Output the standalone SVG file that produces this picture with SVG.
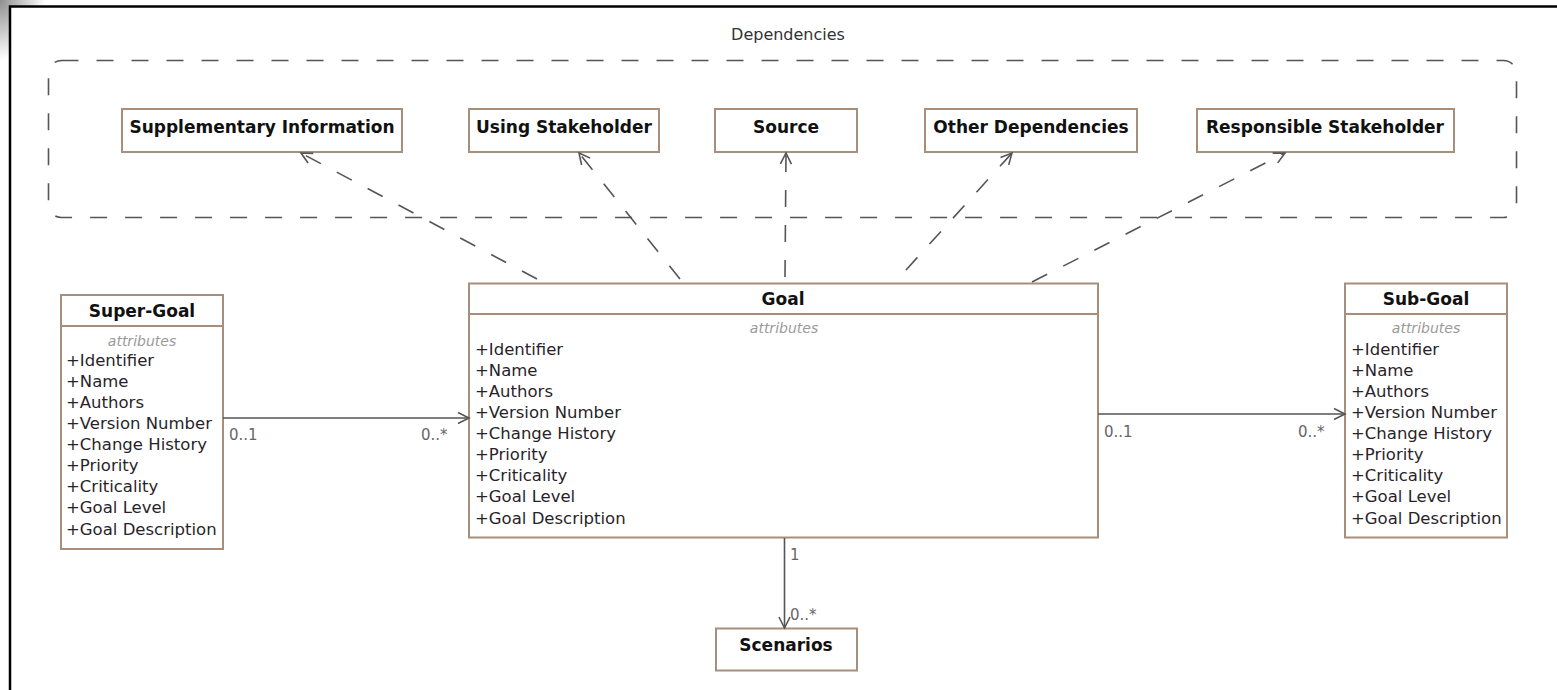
<svg xmlns="http://www.w3.org/2000/svg" width="1557" height="690" viewBox="0 0 1557 690">
  <style>
    .box { fill: #ffffff; stroke: #a88f7c; stroke-width: 2; }
    .title { font-family: "DejaVu Sans", "Liberation Sans", sans-serif; font-weight: bold; font-size: 17px; fill: #111; text-anchor: middle; }
    .stereo { font-family: "DejaVu Sans", "Liberation Sans", sans-serif; font-style: italic; font-size: 14px; fill: #9a9a9a; text-anchor: middle; }
    .attr { font-family: "DejaVu Sans", "Liberation Sans", sans-serif; font-size: 16.5px; fill: #2a1f2a; }
    .mult { font-family: "DejaVu Sans", "Liberation Sans", sans-serif; font-size: 15px; fill: #666; }
    .caption { font-family: "DejaVu Sans", "Liberation Sans", sans-serif; font-size: 16px; fill: #333; text-anchor: middle; }
    .assoc { fill: none; stroke: #555; stroke-width: 1.6; }
    .dep { fill: none; stroke: #555; stroke-width: 1.6; stroke-dasharray: 17 18; }
    .frame { fill: none; stroke: #000; stroke-width: 2.5; }
  </style>
  <defs>
    <marker id="open" markerUnits="userSpaceOnUse" markerWidth="14" markerHeight="14" viewBox="0 0 14 14" refX="12" refY="7" orient="auto">
      <path d="M1,1.5 L12,7 L1,12.5" fill="none" stroke="#555" stroke-width="1.6" stroke-dasharray="none"/>
    </marker>
    <radialGradient id="cornerShade" cx="0" cy="0" r="1" gradientUnits="objectBoundingBox">
      <stop offset="0" stop-color="#8f8f8f"/>
      <stop offset="1" stop-color="#ffffff"/>
    </radialGradient>
  </defs>

  <!-- canvas and window frame -->
  <rect x="0" y="0" width="1557" height="690" fill="#ffffff"/>
  <rect x="0" y="0" width="45" height="60" fill="url(#cornerShade)"/>
  <rect x="10" y="6" width="1547" height="684" fill="#ffffff"/>
  <path class="frame" d="M10,690 L10,6.5 L1557,6.5"/>

  <!-- package of dependencies -->
  <g id="dependencies">
    <text class="caption" x="788" y="40">Dependencies</text>
    <rect x="48.5" y="60.5" width="1468" height="157" rx="13" ry="13" fill="none" stroke="#555" stroke-width="1.6" stroke-dasharray="17 18"/>
  </g>

  <g id="supplementary-information">
    <rect class="box" x="122" y="109" width="280" height="43"/>
    <text class="title" x="262" y="133">Supplementary Information</text>
  </g>
  <g id="using-stakeholder">
    <rect class="box" x="469" y="109" width="190" height="43"/>
    <text class="title" x="564" y="133">Using Stakeholder</text>
  </g>
  <g id="source">
    <rect class="box" x="715" y="109" width="142" height="43"/>
    <text class="title" x="786" y="133">Source</text>
  </g>
  <g id="other-dependencies">
    <rect class="box" x="925" y="109" width="212" height="43"/>
    <text class="title" x="1031" y="133">Other Dependencies</text>
  </g>
  <g id="responsible-stakeholder">
    <rect class="box" x="1197" y="109" width="257" height="43"/>
    <text class="title" x="1325" y="133">Responsible Stakeholder</text>
  </g>

  <!-- class: Super-Goal -->
  <g id="super-goal">
    <rect class="box" x="61" y="295" width="162" height="254"/>
    <line x1="61" y1="326" x2="223" y2="326" stroke="#a88f7c" stroke-width="2"/>
    <text class="title" x="142" y="317">Super-Goal</text>
    <text class="stereo" x="142" y="346">attributes</text>
    <text class="attr" x="66" y="366">+Identifier</text>
    <text class="attr" x="66" y="387">+Name</text>
    <text class="attr" x="66" y="408">+Authors</text>
    <text class="attr" x="66" y="429">+Version Number</text>
    <text class="attr" x="66" y="450">+Change History</text>
    <text class="attr" x="66" y="471">+Priority</text>
    <text class="attr" x="66" y="492">+Criticality</text>
    <text class="attr" x="66" y="513">+Goal Level</text>
    <text class="attr" x="66" y="535">+Goal Description</text>
  </g>

  <!-- class: Goal -->
  <g id="goal">
    <rect class="box" x="469" y="283.5" width="629" height="254"/>
    <line x1="469" y1="314" x2="1098" y2="314" stroke="#a88f7c" stroke-width="2"/>
    <text class="title" x="783" y="305">Goal</text>
    <text class="stereo" x="784" y="333">attributes</text>
    <text class="attr" x="475" y="355">+Identifier</text>
    <text class="attr" x="475" y="376">+Name</text>
    <text class="attr" x="475" y="397">+Authors</text>
    <text class="attr" x="475" y="418">+Version Number</text>
    <text class="attr" x="475" y="439">+Change History</text>
    <text class="attr" x="475" y="460">+Priority</text>
    <text class="attr" x="475" y="481">+Criticality</text>
    <text class="attr" x="475" y="502">+Goal Level</text>
    <text class="attr" x="475" y="524">+Goal Description</text>
  </g>

  <!-- class: Sub-Goal -->
  <g id="sub-goal">
    <rect class="box" x="1345" y="283.5" width="162" height="254"/>
    <line x1="1345" y1="314" x2="1507" y2="314" stroke="#a88f7c" stroke-width="2"/>
    <text class="title" x="1426" y="305">Sub-Goal</text>
    <text class="stereo" x="1426" y="333">attributes</text>
    <text class="attr" x="1351" y="355">+Identifier</text>
    <text class="attr" x="1351" y="376">+Name</text>
    <text class="attr" x="1351" y="397">+Authors</text>
    <text class="attr" x="1351" y="418">+Version Number</text>
    <text class="attr" x="1351" y="439">+Change History</text>
    <text class="attr" x="1351" y="460">+Priority</text>
    <text class="attr" x="1351" y="481">+Criticality</text>
    <text class="attr" x="1351" y="502">+Goal Level</text>
    <text class="attr" x="1351" y="524">+Goal Description</text>
  </g>

  <!-- class: Scenarios -->
  <g id="scenarios">
    <rect class="box" x="716" y="628.5" width="141" height="42"/>
    <text class="title" x="786" y="651">Scenarios</text>
  </g>

  <!-- associations and dependency arrows -->
  <g id="connectors">
    <line class="assoc" x1="223" y1="418" x2="469" y2="418" marker-end="url(#open)"/>
    <line class="assoc" x1="1098" y1="414" x2="1345" y2="414" marker-end="url(#open)"/>
    <line class="assoc" x1="784.5" y1="538" x2="784.5" y2="628" marker-end="url(#open)"/>

    <line class="dep" x1="537" y1="279" x2="301" y2="153" marker-end="url(#open)"/>
    <line class="dep" x1="680" y1="279" x2="579" y2="153" marker-end="url(#open)"/>
    <line class="dep" x1="785" y1="277" x2="786" y2="153" marker-end="url(#open)"/>
    <line class="dep" x1="906" y1="270" x2="1012" y2="153" marker-end="url(#open)"/>
    <line class="dep" x1="1032" y1="282" x2="1285" y2="153" marker-end="url(#open)"/>

    <text class="mult" x="229" y="440">0..1</text>
    <text class="mult" x="421" y="440">0..*</text>
    <text class="mult" x="1104" y="437">0..1</text>
    <text class="mult" x="1298" y="437">0..*</text>
    <text class="mult" x="790" y="560">1</text>
    <text class="mult" x="790" y="620">0..*</text>
  </g>
</svg>
